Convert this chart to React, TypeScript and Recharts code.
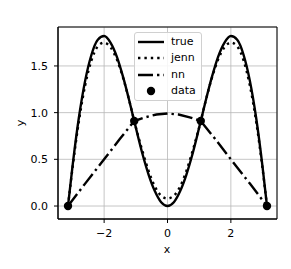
import React from "react";
import {
  ComposedChart,
  Line,
  Scatter,
  XAxis,
  YAxis,
  CartesianGrid,
  ReferenceArea,
} from "recharts";

// true curve (solid)
const trueX = [-3.14, -3.0, -2.8, -2.6, -2.4, -2.2, -2.0, -1.8, -1.6, -1.4, -1.2, -1.0, -0.8, -0.6, -0.4, -0.2, 0, 0.2, 0.4, 0.6, 0.8, 1.0, 1.2, 1.4, 1.6, 1.8, 2.0, 2.2, 2.4, 2.6, 2.8, 3.0, 3.14];
const trueY = [0, 0.42, 0.94, 1.34, 1.62, 1.78, 1.82, 1.75, 1.6, 1.38, 1.12, 0.84, 0.57, 0.34, 0.16, 0.04, 0, 0.04, 0.16, 0.34, 0.57, 0.84, 1.12, 1.38, 1.6, 1.75, 1.82, 1.78, 1.62, 1.34, 0.94, 0.42, 0];

// jenn curve (dotted)
const jennX = [-3.14, -3.0, -2.8, -2.6, -2.4, -2.2, -2.0, -1.8, -1.6, -1.4, -1.2, -1.05, -0.8, -0.6, -0.4, -0.2, 0, 0.2, 0.4, 0.6, 0.8, 1.05, 1.2, 1.4, 1.6, 1.8, 2.0, 2.2, 2.4, 2.6, 2.8, 3.0, 3.14];
const jennY = [0, 0.4, 0.9, 1.29, 1.56, 1.71, 1.75, 1.7, 1.57, 1.37, 1.12, 0.91, 0.6, 0.38, 0.21, 0.11, 0.08, 0.11, 0.21, 0.38, 0.6, 0.91, 1.12, 1.37, 1.57, 1.7, 1.75, 1.71, 1.56, 1.29, 0.9, 0.4, 0];

// nn curve (dash-dot)
const nnX = [-3.14, -2.6, -2.0, -1.5, -1.05, -0.7, -0.35, 0, 0.35, 0.7, 1.05, 1.5, 2.0, 2.6, 3.14];
const nnY = [0, 0.24, 0.5, 0.72, 0.91, 0.95, 0.98, 0.99, 0.98, 0.95, 0.91, 0.72, 0.5, 0.24, 0];

// training data
const dataX = [-3.14, -1.05, 1.05, 3.14];
const dataY = [0, 0.91, 0.91, 0];

const xTicks = [-2, 0, 2];
const yTicks = [0, 0.5, 1.0, 1.5];
const legendNames = ["true", "jenn", "nn", "data"];

const zip = (xs: number[], ys: number[]) => xs.map((x, i) => ({ x, y: ys[i] }));

const FONT = "DejaVu Sans, sans-serif";
const X_DOM: [number, number] = [-3.456, 3.456];
const Y_DOM: [number, number] = [-0.139, 1.917];

const LegendBox = () => (
  <div
    style={{
      position: "absolute",
      left: 134,
      top: 32,
      width: 66,
      height: 67,
      border: "1px solid #d0d0d0",
      borderRadius: 3,
      background: "rgba(255,255,255,0.85)",
      fontFamily: FONT,
      fontSize: 11,
      color: "#000",
    }}
  >
    {legendNames.map((name, i) => (
      <div
        key={name}
        style={{ position: "absolute", left: 0, top: 1 + i * 16.4, height: 16, width: 66 }}
      >
        <svg width={32} height={16} style={{ position: "absolute", left: 0, top: 0 }}>
          {i === 0 && <line x1={3} x2={29} y1={8} y2={8} stroke="#000" strokeWidth={2.4} />}
          {i === 1 && (
            <line x1={3} x2={29} y1={8} y2={8} stroke="#000" strokeWidth={2.4} strokeDasharray="2.4 4" />
          )}
          {i === 2 && (
            <line x1={3} x2={29} y1={8} y2={8} stroke="#000" strokeWidth={2.4} strokeDasharray="15 4 2.4 4" />
          )}
          {i === 3 && <circle cx={16} cy={8} r={4.2} fill="#000" />}
        </svg>
        <span style={{ position: "absolute", left: 36, top: 1, lineHeight: "14px" }}>{name}</span>
      </div>
    ))}
  </div>
);

const minus = (v: number) => (v < 0 ? `\u2212${Math.abs(v)}` : String(v));

export default function App() {
  return (
    <div style={{ position: "absolute", left: 0, top: 0, width: 291, height: 269, background: "#fff" }}>
      <ComposedChart
        width={291}
        height={269}
        margin={{ top: 27, right: 14, bottom: 20, left: 18 }}
      >
        <CartesianGrid stroke="#b8b8b8" strokeWidth={0.8} />
        <XAxis
          type="number"
          dataKey="x"
          domain={X_DOM}
          allowDataOverflow
          ticks={xTicks}
          tickFormatter={minus}
          height={30}
          tickSize={4}
          tickMargin={6}
          tick={{ fontSize: 11, fill: "#000", fontFamily: FONT }}
          tickLine={{ stroke: "#000" }}
          axisLine={{ stroke: "#000" }}
          label={{
            content: () => (
              <text x={167} y={253} textAnchor="middle" fontSize={11} fontFamily={FONT} fill="#000">
                x
              </text>
            ),
          }}
        />
        <YAxis
          type="number"
          dataKey="y"
          domain={Y_DOM}
          allowDataOverflow
          ticks={yTicks}
          tickFormatter={(v: number) => v.toFixed(1)}
          width={40}
          tickSize={4}
          tickMargin={6}
          tick={{ fontSize: 11, fill: "#000", fontFamily: FONT }}
          tickLine={{ stroke: "#000" }}
          axisLine={{ stroke: "#000" }}
          label={{
            content: () => (
              <text
                x={24}
                y={123}
                textAnchor="middle"
                fontSize={11}
                fontFamily={FONT}
                fill="#000"
                transform="rotate(-90 24 123)"
              >
                y
              </text>
            ),
          }}
        />
        <Line
          data={zip(trueX, trueY)}
          dataKey="y"
          type="monotone"
          stroke="#000"
          strokeWidth={2.4}
          dot={false}
          isAnimationActive={false}
        />
        <Line
          data={zip(jennX, jennY)}
          dataKey="y"
          type="monotone"
          stroke="#000"
          strokeWidth={2.4}
          strokeDasharray="2.4 4"
          dot={false}
          isAnimationActive={false}
        />
        <Line
          data={zip(nnX, nnY)}
          dataKey="y"
          type="linear"
          stroke="#000"
          strokeWidth={2.4}
          strokeDasharray="15 4 2.4 4"
          dot={false}
          isAnimationActive={false}
        />
        <Scatter
          data={zip(dataX, dataY)}
          dataKey="y"
          fill="#000"
          isAnimationActive={false}
          shape={(p: any) => <circle cx={p.cx} cy={p.cy} r={4.2} fill="#000" />}
        />
        <ReferenceArea
          x1={X_DOM[0]}
          x2={X_DOM[1]}
          y1={Y_DOM[0]}
          y2={Y_DOM[1]}
          fill="none"
          stroke="#000"
          strokeWidth={1}
          ifOverflow="visible"
        />
      </ComposedChart>
      <LegendBox />
    </div>
  );
}
